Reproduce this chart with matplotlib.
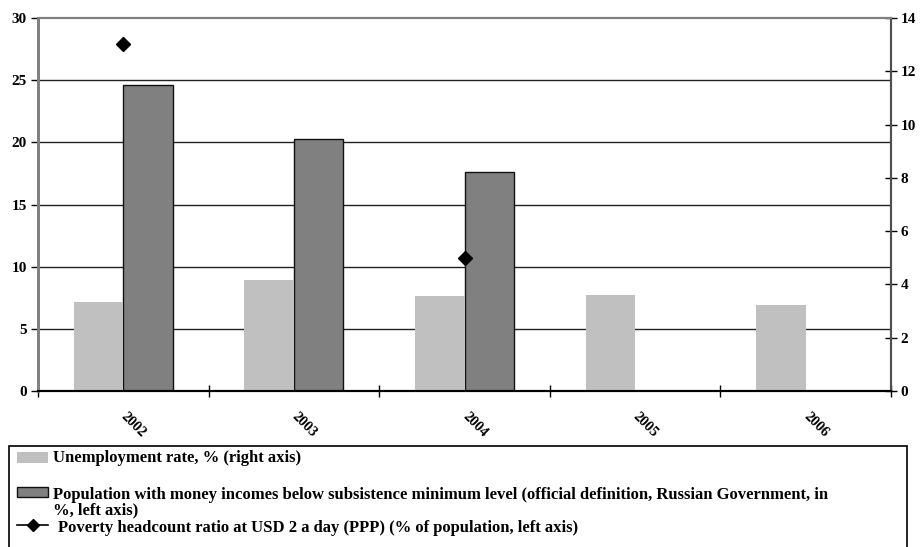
import numpy as np
import matplotlib
matplotlib.use("Agg")
import matplotlib.pyplot as plt
from matplotlib.patches import Rectangle
from matplotlib.lines import Line2D

plt.rcParams['font.family'] = ['Liberation Serif', 'DejaVu Serif']
plt.rcParams['font.weight'] = 'bold'

years = ['2002', '2003', '2004', '2005', '2006']
unemployment = [3.33, 4.17, 3.57, 3.6, 3.23]          # right axis
below_minimum = [24.6, 20.3, 17.6, np.nan, np.nan]    # left axis
poverty_2usd = [27.9, np.nan, 10.7, np.nan, np.nan]   # left axis

lab_unemp = 'Unemployment rate, % (right axis)'
lab_below1 = ('Population with money incomes below subsistence minimum level '
              '(official definition, Russian Government, in')
lab_below2 = '%, left axis)'
lab_pov = 'Poverty headcount ratio at USD 2 a day (PPP) (% of population, left axis)'

W, H = 921, 547
fig = plt.figure(figsize=(W / 100, H / 100), dpi=100)
ax = fig.add_axes([38 / W, 1 - 391 / H, (891 - 38) / W, (391 - 18) / H])
ax2 = ax.twinx()

x = np.arange(len(years))
bw = 0.29

ax2.bar(x - bw / 2, unemployment, bw, color='#c0c0c0', edgecolor='none', zorder=2)
ax.bar(x + bw / 2, below_minimum, bw, color='#808080', edgecolor='#111111',
       linewidth=1.0, zorder=2)
ax.plot(x, poverty_2usd, linestyle='none', marker='D', markersize=7,
        color='black', zorder=4)

ax.set_xlim(-0.5, len(years) - 0.5)
ax.set_ylim(0, 30)
ax2.set_ylim(0, 14)
ax.set_yticks(range(0, 31, 5))
ax2.set_yticks(range(0, 15, 2))

# horizontal gridlines
for v in range(5, 30, 5):
    ax.axhline(v, color='#222222', linewidth=1.0, zorder=1)

ax.set_xticks(x)
ax.set_xticklabels(years, rotation=-45, ha='left', va='center',
                   rotation_mode='anchor', fontsize=10.5, fontweight='bold')
ax.set_xticks(np.arange(-0.5, len(years), 1), minor=True)
ax.tick_params(axis='x', which='major', length=0, pad=17)
ax.tick_params(axis='x', which='minor', length=8, direction='inout', width=1)
ax.tick_params(axis='y', length=5, direction='out', width=1, labelsize=11, pad=3)
ax2.tick_params(axis='y', length=8, direction='inout', width=1, labelsize=11, pad=3)
for lbl in ax.get_yticklabels() + ax2.get_yticklabels():
    lbl.set_fontweight('bold')

for a in (ax, ax2):
    a.spines['left'].set_color('#808080')
    a.spines['left'].set_linewidth(2)
    a.spines['top'].set_color('#808080')
    a.spines['top'].set_linewidth(1.5)
    a.spines['right'].set_color('#505050')
    a.spines['right'].set_linewidth(1.5)
    a.spines['bottom'].set_color('black')
    a.spines['bottom'].set_linewidth(1.5)

# legend box (figure pixel coordinates)
def fx(px):
    return px / W

def fy(py):
    return 1 - py / H

fig.patches.append(Rectangle((fx(9), fy(560)), fx(907) - fx(9), fy(446) - fy(560),
                             transform=fig.transFigure, facecolor='none',
                             edgecolor='black', linewidth=1.2))
fig.patches.append(Rectangle((fx(17), fy(463)), fx(48) - fx(17), fy(452) - fy(463),
                             transform=fig.transFigure, facecolor='#c0c0c0',
                             edgecolor='none'))
fig.patches.append(Rectangle((fx(17), fy(497)), fx(48) - fx(17), fy(487) - fy(497),
                             transform=fig.transFigure, facecolor='#808080',
                             edgecolor='#111111', linewidth=1))
fig.lines.append(Line2D([fx(17), fx(48)], [fy(525), fy(525)], transform=fig.transFigure,
                        color='black', linewidth=1.2))
fig.lines.append(Line2D([fx(33)], [fy(525)], transform=fig.transFigure, marker='D',
                        markersize=6, color='black'))

fs = 12
fig.text(fx(53), fy(462), lab_unemp, fontsize=fs, fontweight='bold', va='baseline')
fig.text(fx(53), fy(499), lab_below1, fontsize=fs, fontweight='bold', va='baseline')
fig.text(fx(53), fy(514), lab_below2, fontsize=fs, fontweight='bold', va='baseline')
fig.text(fx(58), fy(532), lab_pov, fontsize=fs, fontweight='bold', va='baseline')

fig.savefig('out.png', dpi=100)
